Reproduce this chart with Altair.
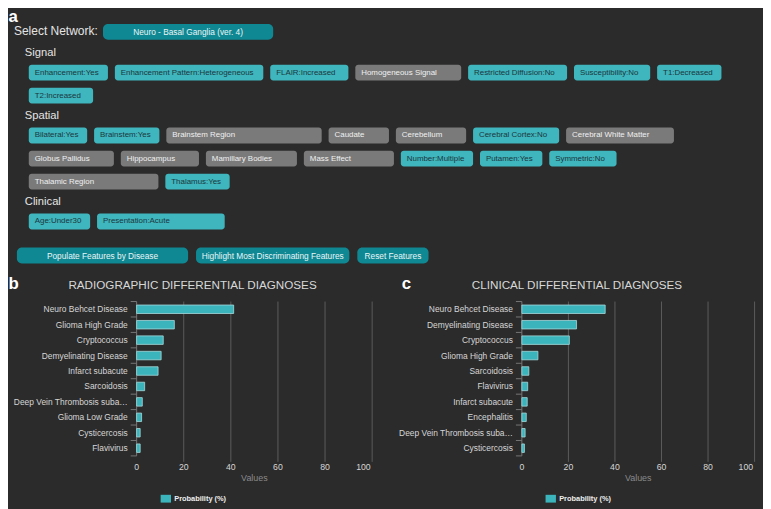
import altair as alt
import pandas as pd

# ---------------- data ----------------
NETWORK = "Neuro - Basal Ganglia (ver. 4)"
SELECT_LABEL = "Select Network:"
SECTIONS = ["Signal", "Spatial", "Clinical"]

SIGNAL_FEATURES = ["Enhancement:Yes", "Enhancement Pattern:Heterogeneous", "FLAIR:Increased",
                   "Homogeneous Signal", "Restricted Diffusion:No", "Susceptibility:No",
                   "T1:Decreased", "T2:Increased"]
SIGNAL_SET = [True, True, True, False, True, True, True, True]

SPATIAL_FEATURES = ["Bilateral:Yes", "Brainstem:Yes", "Brainstem Region", "Caudate", "Cerebellum",
                    "Cerebral Cortex:No", "Cerebral White Matter", "Globus Pallidus", "Hippocampus",
                    "Mamillary Bodies", "Mass Effect", "Number:Multiple", "Putamen:Yes",
                    "Symmetric:No", "Thalamic Region", "Thalamus:Yes"]
SPATIAL_SET = [True, True, False, False, False, True, False, False, False, False, False,
               True, True, True, False, True]

CLINICAL_FEATURES = ["Age:Under30", "Presentation:Acute"]
CLINICAL_SET = [True, True]

ACTIONS = ["Populate Features by Disease", "Highlight Most Discriminating Features", "Reset Features"]

PANEL_LETTERS = ["a", "b", "c"]
TITLE_B = "RADIOGRAPHIC DIFFERENTIAL DIAGNOSES"
TITLE_C = "CLINICAL DIFFERENTIAL DIAGNOSES"

RADIO_DX = ["Neuro Behcet Disease", "Glioma High Grade", "Cryptococcus", "Demyelinating Disease",
            "Infarct subacute", "Sarcoidosis", "Deep Vein Thrombosis subacute", "Glioma Low Grade",
            "Cysticercosis", "Flavivirus"]
RADIO_P = [41.2, 16.0, 11.3, 10.4, 9.1, 3.4, 2.4, 2.1, 1.5, 1.5]

CLIN_DX = ["Neuro Behcet Disease", "Demyelinating Disease", "Cryptococcus", "Glioma High Grade",
           "Sarcoidosis", "Flavivirus", "Infarct subacute", "Encephalitis",
           "Deep Vein Thrombosis subacute", "Cysticercosis"]
CLIN_P = [35.8, 23.5, 20.4, 6.9, 3.0, 2.5, 2.3, 1.9, 1.4, 1.1]

TICKS = [0, 20, 40, 60, 80, 100]
SERIES = "Probability (%)"
AXIS_TITLE = "Values"

# ---------------- layout / style (page pixels) ----------------
W, H = 763, 501
OX, OY = 8, 8
FONT = "Liberation Sans"

BG = "#2b2b2b"
TEAL_BTN = "#3fb5bd"
TEAL_TXT = "#1b383d"
GRAY_BTN = "#7a7a7a"
GRAY_TXT = "#f0f0f0"
DARK_BTN = "#0f8893"
DARK_TXT = "#eaf6f7"
LIGHT = "#e4e4e4"
BAR = "#3bb4bb"
BAR_STROKE = "#a6dadd"
GRID = "#5c5c5c"
AXIS_C = "#767676"
LABEL_C = "#d6d6d6"

SIGNAL_W = [80, 150, 79, 107, 100, 77, 65, 65]
SPATIAL_W = [59, 66, 157, 61, 71, 87, 109, 86, 79, 92, 91, 73, 63, 68, 131, 65]
CLINICAL_W = [62, 129]
ACTION_W = [173, 155, 72]

BTN_H = 16
ROW_PITCH = 23.3
FLOW_X0, FLOW_GAP, FLOW_RIGHT = 29, 7, 745


def flow(labels, widths, y0):
    x, y = FLOW_X0, y0
    out = []
    for lab, w in zip(labels, widths):
        if x + w > FLOW_RIGHT:
            x = FLOW_X0
            y += ROW_PITCH
        out.append((lab, x, y, x + w, y + BTN_H))
        x += w + FLOW_GAP
    return out, y + BTN_H


small_rects, small_texts, head_texts = [], [], []
y_base = 54.3
for name, feats, flags, widths in [
    (SECTIONS[0], SIGNAL_FEATURES, SIGNAL_SET, SIGNAL_W),
    (SECTIONS[1], SPATIAL_FEATURES, SPATIAL_SET, SPATIAL_W),
    (SECTIONS[2], CLINICAL_FEATURES, CLINICAL_SET, CLINICAL_W),
]:
    head_texts.append(dict(x=25 - OX, y=y_base - OY, t=name, fs=11.3, col=LIGHT))
    boxes, bottom = flow(feats, widths, y_base + 8.3)
    for (lab, x1, y1, x2, y2), on in zip(boxes, flags):
        small_rects.append(dict(x=x1 - OX, x2=x2 - OX, y=y1 - OY, y2=y2 - OY,
                                col=TEAL_BTN if on else GRAY_BTN))
        small_texts.append(dict(x=x1 + 6 - OX, y=(y1 + y2) / 2 - OY, t=lab, fs=8.0,
                                col=TEAL_TXT if on else GRAY_TXT))
    y_base = bottom + 16

head_texts.append(dict(x=14 - OX, y=32.5 - OY, t=SELECT_LABEL, fs=12.1, col=LIGHT))

big_rects, big_texts = [], []
big_boxes = [(NETWORK, 104, 21.5, 276, 37.5)]
ax = 17
for lab, w in zip(ACTIONS, ACTION_W):
    big_boxes.append((lab, ax, 247.5, ax + w, 263.5))
    ax += w + 8
for lab, x1, y1, x2, y2 in big_boxes:
    big_rects.append(dict(x=x1 - OX, x2=x2 - OX, y=y1 - OY, y2=y2 - OY, col=DARK_BTN))
    big_texts.append(dict(x=(x1 + x2) / 2 - OX, y=(y1 + y2) / 2 - OY, t=lab, fs=8.4, col=DARK_TXT))

title_texts = [
    dict(x=194.5 - OX, y=289 - OY, t=TITLE_B, fs=11.8, col="#d8d8d8"),
    dict(x=583 - OX, y=289 - OY, t=TITLE_C, fs=11.8, col="#d8d8d8"),
]
letter_texts = [
    dict(x=8.5 - OX, y=19.5 - OY, t=PANEL_LETTERS[0], fs=17, col="#ffffff"),
    dict(x=8.5 - OX, y=289 - OY, t=PANEL_LETTERS[1], fs=17, col="#ffffff"),
    dict(x=406 - OX, y=289 - OY, t=PANEL_LETTERS[2], fs=17, col="#ffffff"),
]


def rect_layer(rows, radius):
    return alt.Chart(pd.DataFrame(rows)).mark_rect(cornerRadius=radius).encode(
        x=alt.X("x:Q", scale=None, axis=None), x2="x2:Q",
        y=alt.Y("y:Q", scale=None, axis=None), y2="y2:Q",
        color=alt.Color("col:N", scale=None),
    )


def text_layer(rows, align, baseline, weight="normal"):
    return alt.Chart(pd.DataFrame(rows)).mark_text(
        align=align, baseline=baseline, font=FONT, fontWeight=weight
    ).encode(
        x=alt.X("x:Q", scale=None, axis=None),
        y=alt.Y("y:Q", scale=None, axis=None),
        text="t:N",
        size=alt.Size("fs:Q", scale=None, legend=None),
        color=alt.Color("col:N", scale=None),
    )


ui = alt.layer(
    rect_layer(small_rects, 3),
    rect_layer(big_rects, 5),
    text_layer(small_texts, "left", "middle"),
    text_layer(big_texts, "center", "middle"),
    text_layer(head_texts, "left", "alphabetic"),
    text_layer(title_texts, "center", "alphabetic"),
    text_layer(letter_texts, "left", "alphabetic", "bold"),
)


def bar_panel(names, vals, x0, x1, y0, y1, legend_x):
    xs = alt.Scale(domain=[0, 100], range=[x0 - OX, x1 - OX], nice=False)
    ys = alt.Scale(domain=names, range=[y0 - OY, y1 - OY], paddingInner=0, paddingOuter=0)

    def X(f):
        return alt.X(f, scale=xs, axis=None)

    def Y(**kw):
        return alt.Y("dx:N", sort=names, scale=ys, axis=None, **kw)

    df = pd.DataFrame({"dx": names, "p": vals, "series": [SERIES] * len(names)})
    zero = pd.DataFrame({"p": [TICKS[0]]})

    grid = alt.Chart(pd.DataFrame({"p": TICKS[1:]})).mark_rule(color=GRID, strokeWidth=1).encode(
        x=X("p:Q"), y=alt.value(y0 - OY), y2=alt.value(y1 - OY + 6))
    domain = alt.Chart(zero).mark_rule(color=AXIS_C, strokeWidth=1).encode(
        x=X("p:Q"), y=alt.value(y0 - OY), y2=alt.value(y1 - OY))
    yticks = alt.Chart(df).mark_rule(color=AXIS_C, strokeWidth=1).encode(
        x=alt.value(x0 - OX - 6), x2=alt.value(x0 - OX), y=Y(bandPosition=0))
    ytick_end = alt.Chart(zero).mark_rule(color=AXIS_C, strokeWidth=1).encode(
        x=alt.value(x0 - OX - 6), x2=alt.value(x0 - OX), y=alt.value(y1 - OY))
    bars = alt.Chart(df).mark_bar(height={"band": 0.55}, stroke=BAR_STROKE, strokeWidth=0.8).encode(
        x=X("p:Q"),
        y=Y(),
        color=alt.Color("series:N", scale=alt.Scale(range=[BAR]),
                        legend=alt.Legend(orient="none", legendX=legend_x - OX,
                                          legendY=501 - 5.25 - OY,
                                          title=None, symbolType="M-1,-0.75H1V0.75H-1Z",
                                          symbolSize=110, symbolStrokeWidth=0, labelFontSize=7.5,
                                          labelFontWeight="bold", labelColor="#eeeeee",
                                          labelOffset=3, padding=0)),
    )
    ylabels = alt.Chart(df).mark_text(align="right", baseline="middle", font=FONT, fontSize=8.5,
                                       color=LABEL_C, limit=117).encode(
        x=alt.value(x0 - OX - 9), y=Y(), text="dx:N")
    xlabels = alt.Chart(pd.DataFrame({"p": TICKS[:-1]})).mark_text(
        align="center", baseline="top", font=FONT, fontSize=8.8, color=LABEL_C).encode(
        x=X("p:Q"), y=alt.value(465.5 - OY), text="p:Q")
    xlabel_last = alt.Chart(pd.DataFrame({"p": TICKS[-1:]})).mark_text(
        align="right", baseline="top", font=FONT, fontSize=8.8, color=LABEL_C, dx=-1.5).encode(
        x=X("p:Q"), y=alt.value(465.5 - OY), text="p:Q")
    xtitle = alt.Chart(pd.DataFrame({"t": [AXIS_TITLE]})).mark_text(
        align="center", baseline="top", font=FONT, fontSize=9, color="#8a8a8a").encode(
        x=alt.value((x0 + x1) / 2 - OX), y=alt.value(476.5 - OY), text="t:N")
    return alt.layer(grid, domain, yticks, ytick_end, bars, ylabels, xlabels, xlabel_last, xtitle)


chart_b = bar_panel(RADIO_DX, RADIO_P, 138, 376, 302, 458, 162)
chart_c = bar_panel(CLIN_DX, CLIN_P, 527.3, 762.5, 302, 458, 551)

chart = alt.layer(ui, chart_b, chart_c).resolve_scale(
    x="independent", y="independent", color="independent"
).resolve_legend(color="independent").properties(
    width=W, height=H, background=BG, padding=0,
    autosize=alt.AutoSizeParams(type="none"),
).configure_view(stroke=None).configure_legend(labelFont=FONT)

chart.save("out.html", embed_options={"renderer": "svg", "actions": False})
